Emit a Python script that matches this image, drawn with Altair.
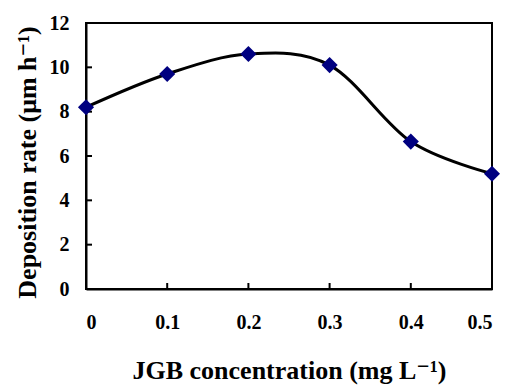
import altair as alt
import pandas as pd

conc = [0.0, 0.1, 0.2, 0.3, 0.4, 0.5]
rate = [8.2, 9.7, 10.6, 10.1, 6.65, 5.2]
x_ticks = [0.1, 0.2, 0.3, 0.4]
y_ticks = [2, 4, 6, 8, 10]

FONT = "'Liberation Serif', 'Times New Roman', 'DejaVu Serif', serif"
W, H = 406, 266

df = pd.DataFrame({"conc": conc, "rate": rate})
xt = pd.DataFrame({"conc": x_ticks})
yt = pd.DataFrame({"rate": y_ticks})

xscale = alt.Scale(domain=[0, 0.5], nice=False, zero=False)
yscale = alt.Scale(domain=[0, 12], nice=False)

xaxis = alt.Axis(
    values=conc, format="~g", title="JGB concentration (mg L⁻¹)",
    ticks=False, grid=False, labelPadding=23, labelFontSize=20,
    labelFont=FONT, labelFontWeight="bold", labelColor="black",
    titleFont=FONT, titleFontWeight="bold", titleFontSize=26, titleColor="black",
    titleY=89, titleBaseline="alphabetic",
    domainColor="black", domainWidth=2,
)
yaxis = alt.Axis(
    values=[0, 2, 4, 6, 8, 10, 12], title="Deposition rate (μm h⁻¹)",
    ticks=False, grid=False, labelPadding=17, labelFontSize=20,
    labelFont=FONT, labelFontWeight="bold", labelColor="black",
    titleFont=FONT, titleFontWeight="bold", titleFontSize=26, titleColor="black",
    titleX=-51, titleY=139, titleAngle=270, titleAlign="center",
    titleBaseline="alphabetic",
    domainColor="black", domainWidth=2,
)

X = alt.X("conc:Q", scale=xscale, axis=xaxis)
Y = alt.Y("rate:Q", scale=yscale, axis=yaxis)

line = alt.Chart(df).mark_line(color="black", strokeWidth=3, interpolate="cardinal").encode(x=X, y=Y)
pts = alt.Chart(df).mark_point(shape="diamond", filled=True, color="#000080", size=260, opacity=1).encode(x=X, y=Y)
xtk = alt.Chart(xt).mark_rule(color="black", strokeWidth=2).encode(
    x=X, y=alt.value(H), y2=alt.value(H - 6),
)
ytk = alt.Chart(yt).mark_rule(color="black", strokeWidth=2).encode(
    y=Y, x=alt.value(0), x2=alt.value(6),
)

chart = alt.layer(line, xtk, ytk, pts).properties(
    width=W, height=H,
    background="white",
    autosize=alt.AutoSizeParams(type="none"),
    padding={"left": 78, "top": 15, "right": 8, "bottom": 98},
).configure_view(stroke="black", strokeWidth=2)

chart.save("out.html", embed_options={"renderer": "svg", "actions": False})
